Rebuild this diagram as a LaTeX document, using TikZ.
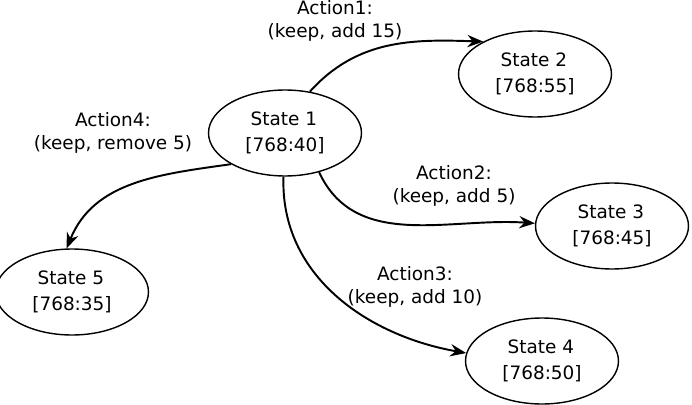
\documentclass[tikz,border=0pt]{standalone}
\usepackage{fontspec}
\setmainfont{DejaVu Sans}
\usetikzlibrary{shapes.geometric, arrows.meta}

\tikzset{
    state/.style={draw, ellipse, line width=0.8pt, minimum width=3.06cm,
        minimum height=1.72cm, inner sep=0pt, align=left,
        font=\fontsize{10.5}{15}\selectfont},
    actlabel/.style={align=center, inner sep=0pt,
        font=\fontsize{10.5}{13}\selectfont},
    act/.style={-{Stealth[length=9pt, width=7pt, inset=3pt]}, line width=1.1pt}
}

\begin{document}
\begin{tikzpicture}[x=0.02cm, y=-0.02cm]
    \useasboundingbox (0,0) rectangle (692,405);

    % Các trạng thái
    \node[state] (s1) at (285,133) {\hspace{3pt}State 1\\{}[768:40]};
    \node[state] (s2) at (535,74)  {\hspace{3pt}State 2\\{}[768:55]};
    \node[state] (s3) at (612,226) {\hspace{3pt}State 3\\{}[768:45]};
    \node[state] (s4) at (542,361) {\hspace{3pt}State 4\\{}[768:50]};
    \node[state] (s5) at (72,292)  {\hspace{3pt}State 5\\{}[768:35]};

    % Nhãn hành động
    \node[actlabel] (a1) at (335,21)  {Action1:\\(keep, add 15)};
    \node[actlabel] (a2) at (454,186) {Action2:\\(keep, add 5)};
    \node[actlabel] (a3) at (415,287) {Action3:\\(keep, add 10)};
    \node[actlabel] (a4) at (113,133) {Action4:\\(keep, remove 5)};

    % Các chuyển trạng thái
    \draw[act] (s1.59)  to[out=48, in=178]  (s2.148);
    \draw[act] (s1.311) to[out=-65, in=176] (s3.178);
    \draw[act] (s1.268) to[out=-92, in=170] (s4.174);
    \draw[act] (s1.210) to[out=188, in=68]  (s5.97);
\end{tikzpicture}
\end{document}
